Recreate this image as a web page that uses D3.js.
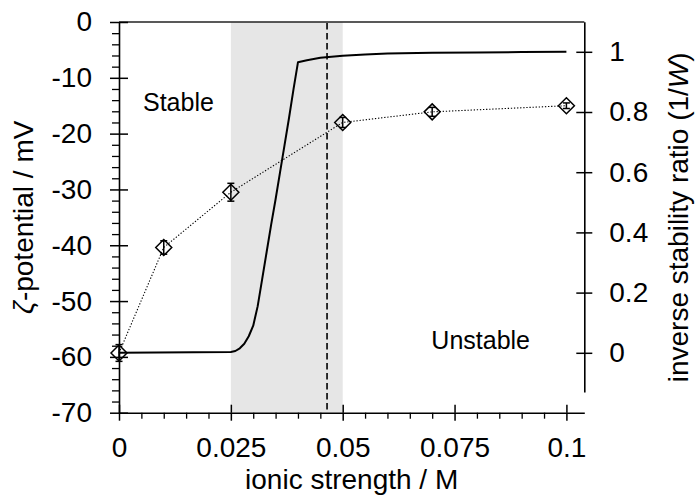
<!DOCTYPE html>
<html>
<head>
<meta charset="utf-8">
<script src="https://cdn.jsdelivr.net/npm/d3@7"></script>
<style>
  html, body { margin: 0; padding: 0; background: #fff; }
  svg text { font-family: "Liberation Sans", Arial, sans-serif; fill: #000; }
</style>
</head>
<body>
<svg id="chart" width="696" height="497"></svg>
<script>
// Zeta potential measurements (left axis)
const zetaX = [0, 0.01, 0.025, 0.05, 0.07, 0.1];
const zetaY = [-59.3, -40.4, -30.5, -18.0, -16.1, -15.0];
const zetaErr = [1.5, 1.2, 1.6, 0.9, 0.8, 0.5];

// Inverse stability ratio 1/W (right axis)
const invX = [0, 0.025, 0.026, 0.027, 0.028, 0.029, 0.030, 0.031, 0.032, 0.033, 0.034,
              0.035, 0.036, 0.037, 0.038, 0.039, 0.040, 0.042, 0.045, 0.05, 0.055,
              0.06, 0.07, 0.08, 0.09, 0.1];
const invY = [0, 0.003, 0.006, 0.015, 0.03, 0.055, 0.09, 0.155, 0.245, 0.335, 0.425,
              0.51, 0.60, 0.69, 0.78, 0.875, 0.965, 0.972, 0.980, 0.987, 0.991,
              0.994, 0.997, 0.998, 0.999, 1.0];

// Shaded transition band and critical coagulation line
const bandRange = [0.025, 0.05];
const criticalX = 0.0465;

// Tick values
const xTicks = [0, 0.025, 0.05, 0.075, 0.1];
const xTickLabels = ["0", "0.025", "0.05", "0.075", "0.1"];
const xMinor = d3.range(0.005, 0.1041, 0.005).filter(v => !xTicks.some(t => Math.abs(t - v) < 1e-9));
const yLTicks = [0, -10, -20, -30, -40, -50, -60, -70];
const yLMinor = d3.range(-2, -70, -2).filter(v => v % 10 !== 0);
const yRTicks = [0, 0.2, 0.4, 0.6, 0.8, 1];
const yRTickLabels = ["0", "0.2", "0.4", "0.6", "0.8", "1"];

const W = 696, H = 497;
const m = { left: 119, top: 22, right: 111.7, bottom: 84.3 };
const pw = W - m.left - m.right, ph = H - m.top - m.bottom;

const svg = d3.select("#chart");
const g = svg.append("g").attr("transform", `translate(${m.left},${m.top})`);

const x = d3.scaleLinear().domain([0, 0.104]).range([0, pw]);
const yL = d3.scaleLinear().domain([-70, 0]).range([ph, 0]);
const yR = d3.scaleLinear().domain([0, 1]).range([yL(-70) - 59.9, yL(-70) - 360.9]);

const FS = 28;      // axis text
const FS_LBL = 25;  // region labels

// Transition band
g.append("rect")
  .attr("x", x(bandRange[0])).attr("y", 0)
  .attr("width", x(bandRange[1]) - x(bandRange[0])).attr("height", ph)
  .attr("fill", "#e6e6e6");

// Critical line
g.append("line")
  .attr("x1", x(criticalX)).attr("x2", x(criticalX))
  .attr("y1", 1).attr("y2", ph)
  .attr("stroke", "#000").attr("stroke-width", 1.6)
  .attr("stroke-dasharray", "6.5,3.5");

// Inverse stability ratio curve
const invData = invX.map((v, i) => [v, invY[i]]);
g.append("path")
  .datum(invData)
  .attr("fill", "none").attr("stroke", "#000").attr("stroke-width", 2)
  .attr("stroke-linejoin", "round")
  .attr("d", d3.line().x(d => x(d[0])).y(d => yR(d[1])));

// Zeta potential dotted line
const zData = zetaX.map((v, i) => ({ x: v, y: zetaY[i], e: zetaErr[i] }));
g.append("path")
  .datum(zData)
  .attr("fill", "none").attr("stroke", "#000").attr("stroke-width", 1.1)
  .attr("stroke-dasharray", "1.3,1.8")
  .attr("d", d3.line().x(d => x(d.x)).y(d => yL(d.y)));

// Error bars
const eb = g.append("g").attr("stroke", "#000").attr("stroke-width", 1.5);
zData.forEach(d => {
  const cx = x(d.x), y1 = yL(d.y + d.e), y2 = yL(d.y - d.e);
  eb.append("line").attr("x1", cx).attr("x2", cx).attr("y1", y1).attr("y2", y2);
  eb.append("line").attr("x1", cx - 3.5).attr("x2", cx + 3.5).attr("y1", y1).attr("y2", y1);
  eb.append("line").attr("x1", cx - 3.5).attr("x2", cx + 3.5).attr("y1", y2).attr("y2", y2);
});

// Diamond markers
const ds = 8;
g.append("g").selectAll("path").data(zData).join("path")
  .attr("transform", d => `translate(${x(d.x)},${yL(d.y)})`)
  .attr("d", `M0,${-ds}L${ds},0L0,${ds}L${-ds},0Z`)
  .attr("fill", "none").attr("stroke", "#000").attr("stroke-width", 1.5);

// Frame: top line
g.append("line").attr("x1", 0).attr("x2", pw).attr("y1", 0).attr("y2", 0)
  .attr("stroke", "#222").attr("stroke-width", 1.6);

function styleAxis(sel) {
  sel.select(".domain").attr("stroke", "#000").attr("stroke-width", 1.6);
  sel.selectAll(".tick line").attr("stroke", "#000").attr("stroke-width", 1.5);
  sel.selectAll("text").attr("font-size", FS).attr("font-family", "Liberation Sans, Arial, sans-serif");
}

// Left axis
const axL = g.append("g")
  .call(d3.axisLeft(yL).tickValues(yLTicks).tickFormat(d => String(d))
    .tickSizeInner(9).tickSizeOuter(0).tickPadding(18));
styleAxis(axL);
axL.selectAll(".tick").append("line").attr("x2", 9).attr("stroke", "#000").attr("stroke-width", 1.5);
const axLm = g.append("g")
  .call(d3.axisLeft(yL).tickValues(yLMinor).tickFormat("").tickSizeInner(7).tickSizeOuter(0));
axLm.select(".domain").remove();
axLm.selectAll(".tick line").attr("stroke", "#000").attr("stroke-width", 1.3);

// Bottom axis
const axB = g.append("g").attr("transform", `translate(0,${ph})`)
  .call(d3.axisBottom(x).tickValues(xTicks).tickFormat((d, i) => xTickLabels[i])
    .tickSizeInner(8).tickSizeOuter(0).tickPadding(16));
styleAxis(axB);
axB.selectAll(".tick").append("line").attr("y2", -8).attr("stroke", "#000").attr("stroke-width", 1.5);
const axBm = g.append("g").attr("transform", `translate(0,${ph})`)
  .call(d3.axisBottom(x).tickValues(xMinor).tickFormat("").tickSizeInner(6).tickSizeOuter(0));
axBm.select(".domain").remove();
axBm.selectAll(".tick line").attr("stroke", "#000").attr("stroke-width", 1.3);

// Right axis
const yRAxisScale = yR.copy().domain([-0.13, 1.1]).range([yR(-0.13), yR(1.1)]);
const axR = g.append("g").attr("transform", `translate(${pw},0)`)
  .call(d3.axisRight(yRAxisScale).tickValues(yRTicks).tickFormat((d, i) => yRTickLabels[i])
    .tickSizeInner(8).tickSizeOuter(0).tickPadding(17));
styleAxis(axR);
axR.selectAll(".tick").append("line").attr("x2", -8).attr("stroke", "#000").attr("stroke-width", 1.5);

// Region labels
g.append("text").attr("x", 143 - m.left).attr("y", 111 - m.top)
  .attr("font-size", FS_LBL).text("Stable");
g.append("text").attr("x", 530 - m.left).attr("y", 349 - m.top)
  .attr("text-anchor", "end").attr("font-size", FS_LBL).text("Unstable");

// Axis titles
svg.append("text")
  .attr("transform", `translate(33,${m.top + ph / 2}) rotate(-90)`)
  .attr("text-anchor", "middle").attr("font-size", FS)
  .call(t => {
    t.append("tspan").attr("font-style", "italic").text("ζ");
    t.append("tspan").text("-potential / mV");
  });

svg.append("text")
  .attr("transform", `translate(688,${m.top + ph / 2}) rotate(-90)`)
  .attr("text-anchor", "middle").attr("font-size", FS)
  .call(t => {
    t.append("tspan").text("inverse stability ratio (1/");
    t.append("tspan").attr("font-style", "italic").text("W");
    t.append("tspan").text(")");
  });

svg.append("text")
  .attr("x", m.left + pw / 2).attr("y", 489)
  .attr("text-anchor", "middle").attr("font-size", FS)
  .text("ionic strength / M");
</script>
</body>
</html>
